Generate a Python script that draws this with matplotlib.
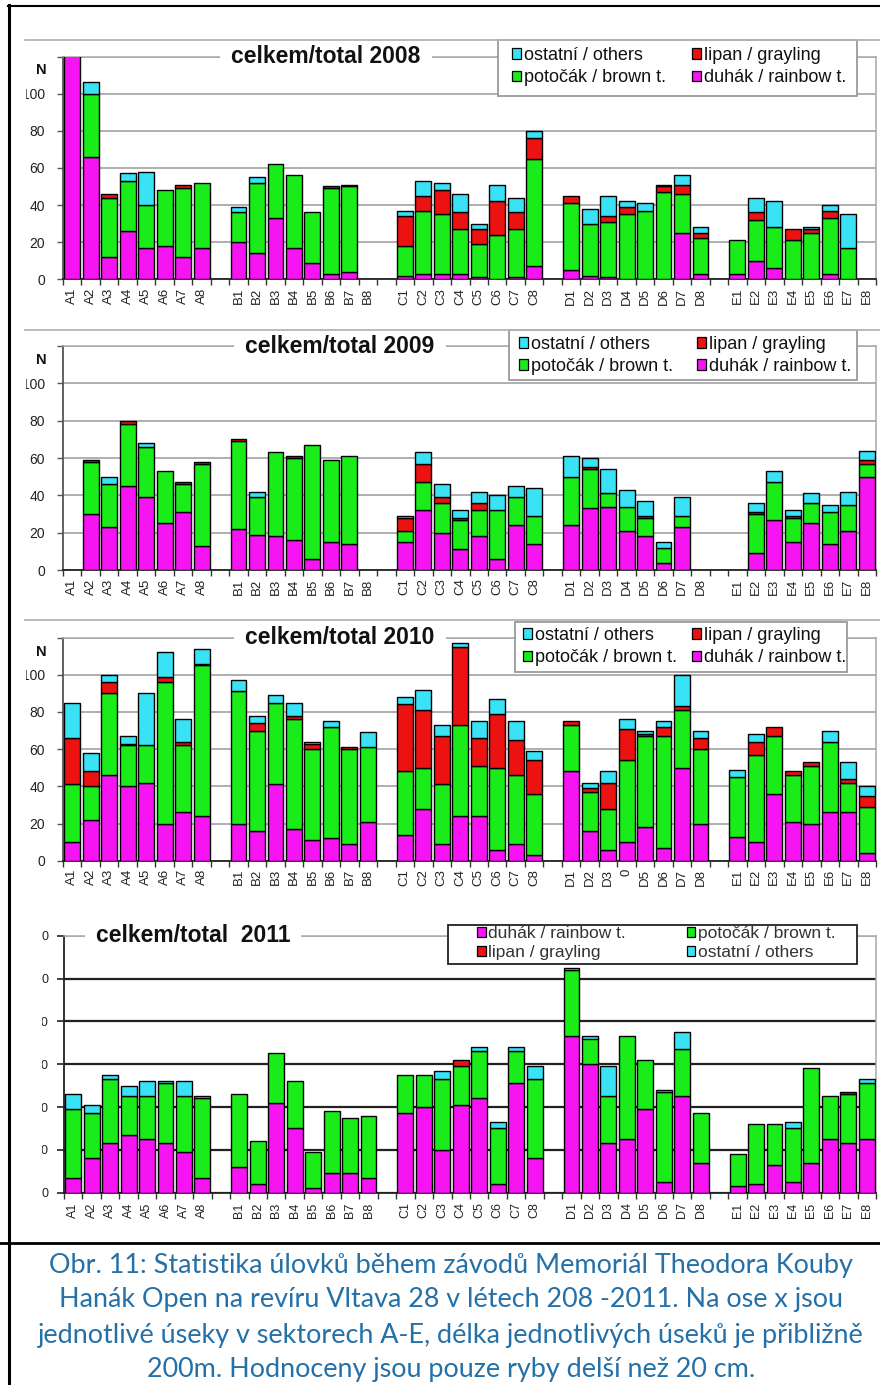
import numpy as np
import matplotlib
matplotlib.use("Agg")
import matplotlib.pyplot as plt
from matplotlib.patches import Rectangle, Patch
from matplotlib.lines import Line2D
from matplotlib.transforms import Bbox, TransformedBbox

plt.rcParams['font.family'] = ['Liberation Sans', 'DejaVu Sans']

# ---- data -------------------------------------------------------------
sectors = ['A', 'B', 'C', 'D', 'E']
sections = [f'{s}{i}' for s in sectors for i in range(1, 9)]
sections_2010 = list(sections)
sections_2010[sections.index('D4')] = '0'

years = [2008, 2009, 2010, 2011]

rainbow_2008 = [125, 66, 12, 26, 17, 18, 12, 17, 20, 14, 33, 17, 9, 3, 4, 0,
                2, 3, 3, 3, 1, 0, 1, 7, 5, 2, 1, 0, 0, 0, 25, 3,
                3, 10, 6, 0, 0, 3, 0, 0]
brown_2008 = [0, 34, 32, 27, 23, 30, 37, 35, 16, 38, 29, 39, 27, 46, 46, 0,
              16, 34, 32, 24, 18, 24, 26, 58, 36, 28, 30, 35, 37, 47, 21, 19,
              18, 22, 22, 21, 25, 30, 17, 0]
grayling_2008 = [0, 0, 2, 0, 0, 0, 2, 0, 0, 0, 0, 0, 0, 1, 1, 0,
                 16, 8, 13, 9, 8, 18, 9, 11, 4, 0, 3, 4, 0, 3, 5, 3,
                 0, 4, 0, 6, 2, 4, 0, 0]
others_2008 = [0, 6, 0, 4, 18, 0, 0, 0, 3, 3, 0, 0, 0, 0, 0, 0,
               3, 8, 4, 10, 3, 9, 8, 4, 0, 8, 11, 3, 4, 1, 5, 3,
               0, 8, 14, 0, 1, 3, 18, 0]

rainbow_2009 = [0, 30, 23, 45, 39, 25, 31, 13, 22, 19, 18, 16, 6, 15, 14, 0,
                15, 32, 20, 11, 18, 6, 24, 14, 24, 33, 34, 21, 18, 4, 23, 0,
                0, 9, 27, 15, 25, 14, 21, 50]
brown_2009 = [0, 28, 23, 33, 27, 28, 15, 44, 47, 20, 45, 44, 61, 44, 47, 0,
              6, 15, 16, 16, 14, 26, 15, 15, 26, 21, 7, 13, 10, 8, 6, 0,
              0, 21, 20, 13, 11, 17, 14, 7]
grayling_2009 = [0, 1, 0, 2, 0, 0, 1, 1, 1, 0, 0, 1, 0, 0, 0, 0,
                 7, 10, 3, 1, 4, 0, 0, 0, 0, 1, 0, 0, 1, 0, 0, 0,
                 0, 1, 0, 1, 0, 0, 0, 2]
others_2009 = [0, 0, 4, 0, 2, 0, 0, 0, 0, 3, 0, 0, 0, 0, 0, 0,
               1, 6, 7, 4, 6, 8, 6, 15, 11, 5, 13, 9, 8, 3, 10, 0,
               0, 5, 6, 3, 5, 4, 7, 5]

rainbow_2010 = [10, 22, 46, 40, 42, 20, 26, 24, 20, 16, 41, 17, 11, 12, 9, 21,
                14, 28, 9, 24, 24, 6, 9, 3, 48, 16, 6, 10, 18, 7, 50, 20,
                13, 10, 36, 21, 20, 26, 26, 4]
brown_2010 = [31, 18, 44, 22, 20, 76, 36, 81, 71, 54, 44, 59, 49, 60, 51, 40,
              34, 22, 32, 49, 27, 44, 37, 33, 25, 21, 22, 44, 49, 60, 31, 40,
              32, 47, 31, 25, 31, 38, 16, 25]
grayling_2010 = [25, 8, 6, 1, 0, 3, 2, 1, 0, 4, 0, 2, 3, 0, 1, 0,
                 36, 31, 26, 42, 15, 29, 19, 18, 2, 2, 14, 17, 1, 5, 2, 6,
                 0, 7, 5, 2, 2, 0, 2, 6]
others_2010 = [19, 10, 4, 4, 28, 13, 12, 8, 6, 4, 4, 7, 1, 3, 0, 8,
               4, 11, 6, 2, 9, 8, 10, 5, 0, 3, 6, 5, 2, 3, 17, 4,
               4, 4, 0, 0, 0, 6, 9, 5]

rainbow_2011 = [7, 16, 23, 27, 25, 23, 19, 7, 12, 4, 42, 30, 2, 9, 9, 7,
                37, 40, 20, 41, 44, 4, 51, 16, 73, 60, 23, 25, 39, 5, 45, 14,
                3, 4, 13, 5, 14, 25, 23, 25]
brown_2011 = [32, 21, 30, 18, 20, 28, 26, 37, 34, 20, 23, 22, 17, 29, 26, 29,
              18, 15, 33, 18, 22, 26, 15, 37, 31, 12, 22, 48, 23, 42, 22, 23,
              15, 28, 19, 25, 44, 20, 23, 26]
grayling_2011 = [0, 0, 0, 0, 0, 0, 0, 0, 0, 0, 0, 0, 0, 0, 0, 0,
                 0, 0, 0, 3, 0, 0, 0, 0, 0, 0, 0, 0, 0, 0, 0, 0,
                 0, 0, 0, 0, 0, 0, 1, 0]
others_2011 = [7, 4, 2, 5, 7, 1, 7, 1, 0, 0, 0, 0, 0, 0, 0, 0,
               0, 0, 4, 0, 2, 3, 2, 6, 1, 1, 14, 0, 0, 1, 8, 0,
               0, 0, 0, 3, 0, 0, 0, 2]

label_rainbow = 'duhák / rainbow t.'
label_brown = 'potočák / brown t.'
label_grayling = 'lipan / grayling'
label_others = 'ostatní / others'

caption_lines = [
    'Obr. 11: Statistika úlovků během závodů Memoriál Theodora Kouby',
    'Hanák Open na revíru Vltava 28 v létech 208 -2011. Na ose x jsou',
    'jednotlivé úseky v sektorech A-E, délka jednotlivých úseků je přibližně',
    '200m. Hodnoceny jsou pouze ryby delší než 20 cm.',
]

# ---- styling ----------------------------------------------------------
COL_RB = '#f614f2'
COL_BT = '#1aec1a'
COL_GR = '#ec1212'
COL_OT = '#3ae2f6'

W, H = 880, 1385
fig = plt.figure(figsize=(W / 100, H / 100), dpi=100)


def fx(px):
    return px / W


def fy(py):
    return 1 - py / H


# bar positions: 8 sections per sector, one empty slot between sectors
pos = np.array([g * 9 + j for g in range(5) for j in range(8)], float)

panels = {
    2008: dict(series=(rainbow_2008, brown_2008, grayling_2008, others_2008),
               box=(63, 56.5, 876, 279.3), title='celkem/total 2008', tx=326,
               leg_box=(498, 40, 857, 96), leg_anchor=(512, 47), csp=1.45,
               order='a', ticklab=sections, clip=26, dark=False),
    2009: dict(series=(rainbow_2009, brown_2009, grayling_2009, others_2009),
               box=(63, 346, 876, 570), title='celkem/total 2009', tx=340,
               leg_box=(509, 330, 857, 380), leg_anchor=(519, 336), csp=1.35,
               order='a', ticklab=sections, clip=26, dark=False),
    2010: dict(series=(rainbow_2010, brown_2010, grayling_2010, others_2010),
               box=(63, 637.5, 876, 860.7), title='celkem/total 2010', tx=340,
               leg_box=(515, 622, 847, 672), leg_anchor=(523, 627), csp=0.85,
               order='a', ticklab=sections_2010, clip=26, dark=False),
    2011: dict(series=(rainbow_2011, brown_2011, grayling_2011, others_2011),
               box=(64, 935.7, 876, 1192.7), title='celkem/total  2011', tx=193,
               leg_box=(448, 925, 857, 964), leg_anchor=(477, 926), csp=3.5,
               order='b', ticklab=sections, clip=42, dark=True),
}

colors = (COL_RB, COL_BT, COL_GR, COL_OT)
handles = {
    'rb': Patch(facecolor=COL_RB, edgecolor='black', linewidth=0.9),
    'bt': Patch(facecolor=COL_BT, edgecolor='black', linewidth=0.9),
    'gr': Patch(facecolor=COL_GR, edgecolor='black', linewidth=0.9),
    'ot': Patch(facecolor=COL_OT, edgecolor='black', linewidth=0.9),
}
names = {'rb': label_rainbow, 'bt': label_brown, 'gr': label_grayling, 'ot': label_others}

for year in years:
    p = panels[year]
    l, t, r, b = p['box']
    ax = fig.add_axes([fx(l), fy(b), fx(r - l), (b - t) / H])
    ax.set_xlim(-0.5, 43.5)
    ax.set_ylim(0, 120)
    ax.set_axisbelow(True)

    bottom = np.zeros(40)
    for vals, col in zip(p['series'], colors):
        v = np.asarray(vals, float)
        m = v > 0
        ax.bar(pos[m], v[m], bottom=bottom[m], width=0.86, color=col,
               edgecolor='black', linewidth=1.0, zorder=3)
        bottom += v

    # y axis
    yt = list(range(0, 121, 20))
    ax.set_yticks(yt)
    if p['dark']:
        ax.set_yticklabels([str(v) for v in yt], fontsize=9, color='#222222')
        ax.tick_params(axis='y', length=5, width=1.2, color='#222222', pad=6)
        ax.yaxis.grid(True, color='#222222', linewidth=1.6)
    else:
        ax.set_yticklabels([str(v) for v in yt[:-1]] + [''], fontsize=10,
                           color='#222222')
        ax.tick_params(axis='y', length=4, width=1.0, color='#555555', pad=9)
        ax.yaxis.grid(True, color='#9a9a9a', linewidth=1.1)
    ax.yaxis.get_gridlines()[-1].set_color('#a8a8a8')
    ax.yaxis.get_gridlines()[-1].set_linewidth(1.1)

    # x axis: labels at bar centres, ticks on the category boundaries
    ax.set_xticks(pos)
    ax.set_xticklabels(p['ticklab'], rotation=90,
                       fontsize=9 if p['dark'] else 9.5, color='#222222')
    ax.tick_params(axis='x', which='major', length=0, pad=7 if p['dark'] else 6)
    ax.set_xticks(np.arange(45) - 0.5, minor=True)
    ax.tick_params(axis='x', which='minor', length=4, width=1.0,
                   color='#333333', direction='out')

    for side in ('top', 'right'):
        ax.spines[side].set_color('#a8a8a8')
        ax.spines[side].set_linewidth(1.1)
    ax.spines['left'].set_color('#222222' if p['dark'] else '#555555')
    ax.spines['left'].set_linewidth(1.3)
    ax.spines['bottom'].set_color('#222222')
    ax.spines['bottom'].set_linewidth(1.3)

    # title sitting on the top frame line
    ax.text((p['tx'] - l) / (r - l), 1.0, p['title'], transform=ax.transAxes,
            ha='center', va='center', fontsize=16.5, fontweight='bold',
            color='#111111', zorder=6,
            bbox=dict(facecolor='white', edgecolor='none', pad=8))

    if not p['dark']:
        fig.text(fx(41), fy(t + 14), 'N', ha='center', va='center',
                 fontsize=10.5, fontweight='bold', color='#111111')

    # legend frame and entries
    x0, y0, x1, y1 = p['leg_box']
    fig.add_artist(Rectangle((fx(x0), fy(y1)), fx(x1 - x0), (y1 - y0) / H,
                             transform=fig.transFigure, facecolor='white',
                             edgecolor='#222222' if p['dark'] else '#9a9a9a',
                             linewidth=1.3, zorder=4))
    if p['order'] == 'a':
        keys = ['ot', 'bt', 'gr', 'rb']
        fs, lsp = 13, 0.28
    else:
        keys = ['rb', 'gr', 'bt', 'ot']
        fs, lsp = 12.5, 0.25
    ax_, ay_ = p['leg_anchor']
    fig.legend([handles[k] for k in keys], [names[k] for k in keys],
               loc='upper left', bbox_to_anchor=(fx(ax_), fy(ay_)),
               bbox_transform=fig.transFigure, frameon=False, ncol=2,
               fontsize=fs, handlelength=0.5, handleheight=0.5,
               handletextpad=0.15, columnspacing=p['csp'], labelspacing=lsp,
               borderpad=0, borderaxespad=0,
               labelcolor='#333333' if p['dark'] else '#111111').set_zorder(5)

    p['ax'] = ax

# ---- page frame -------------------------------------------------------
def hline(y, xa, xb, color, lw):
    fig.add_artist(Line2D([fx(xa), fx(xb)], [fy(y), fy(y)],
                          transform=fig.transFigure, color=color, linewidth=lw,
                          zorder=7))

for ysep in (39.5, 330, 620):
    hline(ysep, 25, 880, '#b4b4b4', 1.3)
hline(6, 8, 880, 'black', 1.5)
hline(1243, 0, 880, 'black', 2.0)
fig.add_artist(Line2D([fx(8.5), fx(8.5)], [fy(5), 0], transform=fig.transFigure,
                      color='black', linewidth=2.2, zorder=7))

# ---- caption ----------------------------------------------------------
cap_color = '#2470a8'
cap_family = ['Lato', 'DejaVu Sans']
cap_y = [1265, 1300, 1335, 1369]
cap_texts = [fig.text(fx(451), fy(yy), s, ha='center', va='center',
                      fontsize=16, family=cap_family, color=cap_color)
             for s, yy in zip(caption_lines, cap_y)]

fig.canvas.draw()
w0 = cap_texts[0].get_window_extent().width
new_size = 16 * 807 / w0
for tx in cap_texts:
    tx.set_fontsize(new_size)

# clip the y tick labels at the left edge of each chart image
for year in years:
    p = panels[year]
    clip = TransformedBbox(Bbox.from_extents(fx(p['clip']), 0, 1, 1),
                           fig.transFigure)
    for tick in p['ax'].yaxis.get_major_ticks():
        tick.label1.set_clip_box(clip)
        tick.label1.set_clip_on(True)

fig.savefig('out.png', dpi=100, facecolor='white')
